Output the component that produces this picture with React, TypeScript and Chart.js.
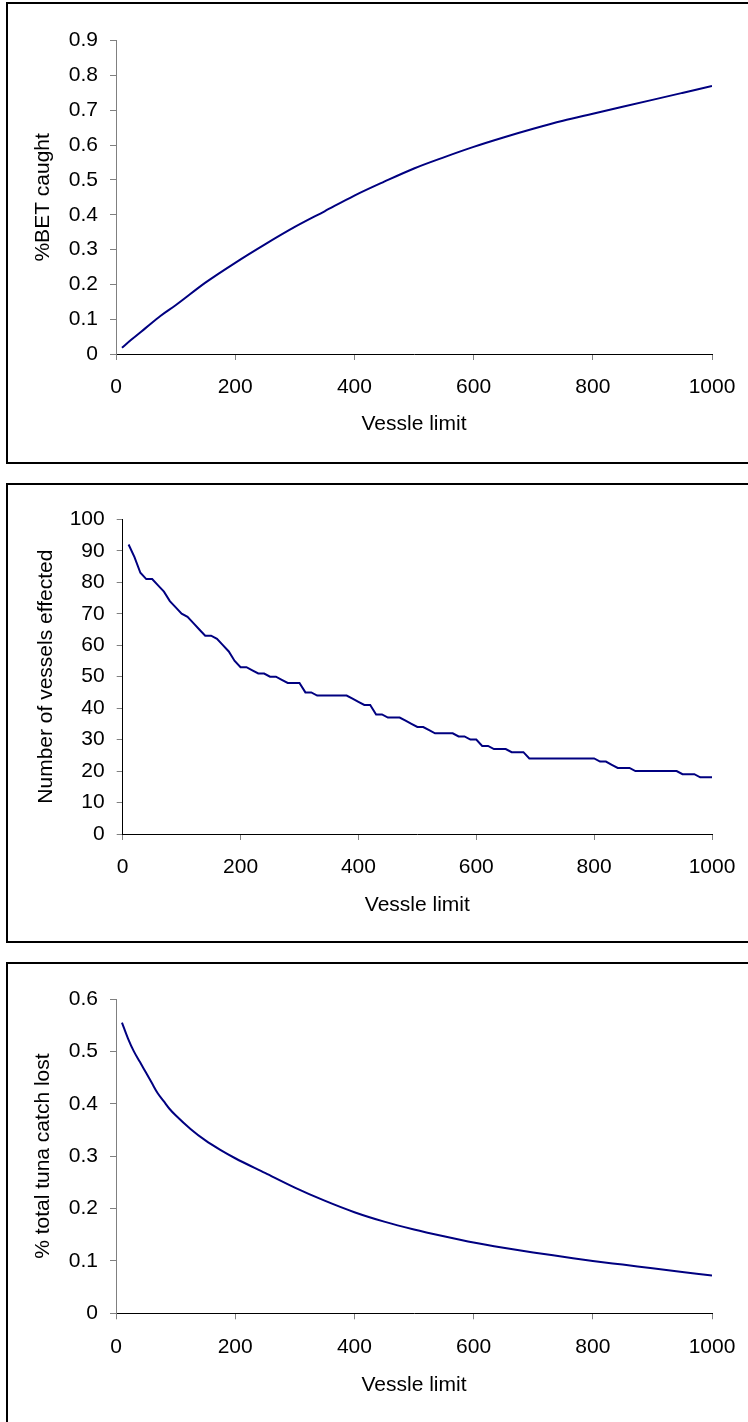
import React, { useEffect, useRef } from "react";
import { Chart, registerables } from "chart.js";

Chart.register(...registerables);

// ---------- Data ----------
const xTicks = [0, 200, 400, 600, 800, 1000];

// Chart 1: %BET caught vs vessel limit
const betLimits = [10, 25, 50, 75, 100, 150, 200, 250, 300, 350, 400, 450, 500, 550, 600, 650, 700, 750, 800, 850, 900, 950, 1000];
const betCaught = [0.018, 0.04, 0.075, 0.11, 0.14, 0.205, 0.262, 0.315, 0.365, 0.41, 0.455, 0.495, 0.533, 0.565, 0.595, 0.622, 0.647, 0.67, 0.69, 0.71, 0.73, 0.75, 0.77];

// Chart 2: number of vessels effected (limits 10..1000 step 10)
const vesselLimits = [
  10, 20, 30, 40, 50, 60, 70, 80, 90, 100,
  110, 120, 130, 140, 150, 160, 170, 180, 190, 200,
  210, 220, 230, 240, 250, 260, 270, 280, 290, 300,
  310, 320, 330, 340, 350, 360, 370, 380, 390, 400,
  410, 420, 430, 440, 450, 460, 470, 480, 490, 500,
  510, 520, 530, 540, 550, 560, 570, 580, 590, 600,
  610, 620, 630, 640, 650, 660, 670, 680, 690, 700,
  710, 720, 730, 740, 750, 760, 770, 780, 790, 800,
  810, 820, 830, 840, 850, 860, 870, 880, 890, 900,
  910, 920, 930, 940, 950, 960, 970, 980, 990, 1000,
];
const vesselsEffected = [
  92, 88, 83, 81, 81, 79, 77, 74, 72, 70,
  69, 67, 65, 63, 63, 62, 60, 58, 55, 53,
  53, 52, 51, 51, 50, 50, 49, 48, 48, 48,
  45, 45, 44, 44, 44, 44, 44, 44, 43, 42,
  41, 41, 38, 38, 37, 37, 37, 36, 35, 34,
  34, 33, 32, 32, 32, 32, 31, 31, 30, 30,
  28, 28, 27, 27, 27, 26, 26, 26, 24, 24,
  24, 24, 24, 24, 24, 24, 24, 24, 24, 24,
  23, 23, 22, 21, 21, 21, 20, 20, 20, 20,
  20, 20, 20, 20, 19, 19, 19, 18, 18, 18,
];

// Chart 3: % total tuna catch lost
const lostLimits = [10, 20, 30, 40, 50, 60, 70, 80, 90, 100, 125, 150, 175, 200, 250, 300, 350, 400, 450, 500, 550, 600, 650, 700, 750, 800, 850, 900, 950, 1000];
const catchLost = [0.555, 0.525, 0.5, 0.48, 0.46, 0.44, 0.42, 0.405, 0.39, 0.378, 0.352, 0.33, 0.312, 0.296, 0.268, 0.24, 0.215, 0.193, 0.175, 0.16, 0.147, 0.135, 0.125, 0.116, 0.108, 0.1, 0.093, 0.086, 0.079, 0.072];

const FONT = "'Liberation Sans', Arial, sans-serif";
const FS = 21;

type Spec = {
  xs: number[];
  ys: number[];
  yMax: number;
  yStep: number;
  yTitle: string;
  decimals: number;
  padLeft: number;
  padTop: number;
  yWidth: number;
  xHeight: number;
  xTitlePadBottom: number;
  yBorderColor: string;
  smooth: boolean;
};

function LineChart({ spec, style }: { spec: Spec; style: React.CSSProperties }) {
  const ref = useRef<HTMLCanvasElement | null>(null);
  useEffect(() => {
    if (!ref.current) return;
    const chart = new Chart(ref.current, {
      type: "line",
      data: {
        datasets: [
          {
            data: spec.xs.map((x, i) => ({ x, y: spec.ys[i] })),
            borderColor: "#000080",
            borderWidth: 2,
            pointRadius: 0,
            fill: false,
            tension: spec.smooth ? 0.4 : 0,
            cubicInterpolationMode: spec.smooth ? "monotone" : "default",
          },
        ],
      },
      options: {
        animation: false,
        responsive: false,
        maintainAspectRatio: false,
        events: [],
        layout: { padding: { left: spec.padLeft, top: spec.padTop, right: 36, bottom: 0 } },
        plugins: { legend: { display: false }, tooltip: { enabled: false }, title: { display: false } },
        scales: {
          x: {
            type: "linear",
            min: 0,
            max: 1000,
            afterBuildTicks: (scale: any) => {
              scale.ticks = xTicks.map((v) => ({ value: v }));
            },
            afterFit: (scale: any) => {
              scale.height = spec.xHeight;
              scale.paddingLeft = 0;
              scale.paddingRight = 0;
            },
            ticks: {
              color: "#000",
              font: { family: FONT, size: FS },
              padding: 15,
              maxRotation: 0,
              autoSkip: false,
              callback: (v: any) => String(v),
            },
            grid: { drawOnChartArea: false, drawTicks: true, tickLength: 6, color: "#808080", lineWidth: 1 },
            border: { display: true, color: "#000", width: 1 },
            title: {
              display: true,
              text: "Vessle limit",
              color: "#000",
              font: { family: FONT, size: FS },
              padding: { top: 4, bottom: spec.xTitlePadBottom },
            },
          },
          y: {
            type: "linear",
            min: 0,
            max: spec.yMax,
            afterFit: (scale: any) => {
              scale.width = spec.yWidth;
              scale.paddingTop = 0;
              scale.paddingBottom = 0;
            },
            ticks: {
              stepSize: spec.yStep,
              color: "#000",
              font: { family: FONT, size: FS },
              padding: 12,
              callback: (v: any) => String(Number(Number(v).toFixed(spec.decimals))),
            },
            grid: { drawOnChartArea: false, drawTicks: true, tickLength: 6, color: "#808080", lineWidth: 1 },
            border: { display: true, color: spec.yBorderColor, width: 1 },
            title: {
              display: true,
              text: spec.yTitle,
              color: "#000",
              font: { family: FONT, size: FS },
              padding: { top: 4, bottom: 4 },
            },
          },
        },
      } as any,
    });
    return () => chart.destroy();
  }, [spec]);
  const w = style.width as number;
  const h = style.height as number;
  return <canvas ref={ref} width={w} height={h} style={{ position: "absolute", ...style }} />;
}

const spec1: Spec = {
  xs: betLimits, ys: betCaught, yMax: 0.9, yStep: 0.1, yTitle: "%BET caught", decimals: 1,
  padLeft: 18.4, padTop: 36.7, yWidth: 89.6, xHeight: 108, xTitlePadBottom: 25.4, yBorderColor: "#808080", smooth: true,
};
const spec2: Spec = {
  xs: vesselLimits, ys: vesselsEffected, yMax: 100, yStep: 10, yTitle: "Number of vessels effected", decimals: 0,
  padLeft: 21.4, padTop: 34.3, yWidth: 93.3, xHeight: 107, xTitlePadBottom: 23.4, yBorderColor: "#000", smooth: false,
};
const spec3: Spec = {
  xs: lostLimits, ys: catchLost, yMax: 0.6, yStep: 0.1, yTitle: "% total tuna catch lost", decimals: 1,
  padLeft: 18.4, padTop: 35, yWidth: 89.6, xHeight: 108.7, xTitlePadBottom: 24.4, yBorderColor: "#808080", smooth: true,
};

export default function App() {
  const box: React.CSSProperties = {
    position: "absolute",
    left: 6,
    border: "2px solid #000",
    boxSizing: "border-box",
    background: "#fff",
  };
  return (
    <div style={{ position: "absolute", left: 0, top: 0, width: 748, height: 1422, overflow: "hidden", background: "#fff" }}>
      <div style={{ ...box, top: 2, width: 760, height: 462 }} />
      <div style={{ ...box, top: 483, width: 760, height: 460 }} />
      <div style={{ ...box, top: 962, width: 760, height: 480 }} />
      <LineChart spec={spec1} style={{ left: 8, top: 4, width: 740, height: 458 }} />
      <LineChart spec={spec2} style={{ left: 8, top: 485, width: 740, height: 456 }} />
      <LineChart spec={spec3} style={{ left: 8, top: 964, width: 740, height: 458 }} />
    </div>
  );
}
